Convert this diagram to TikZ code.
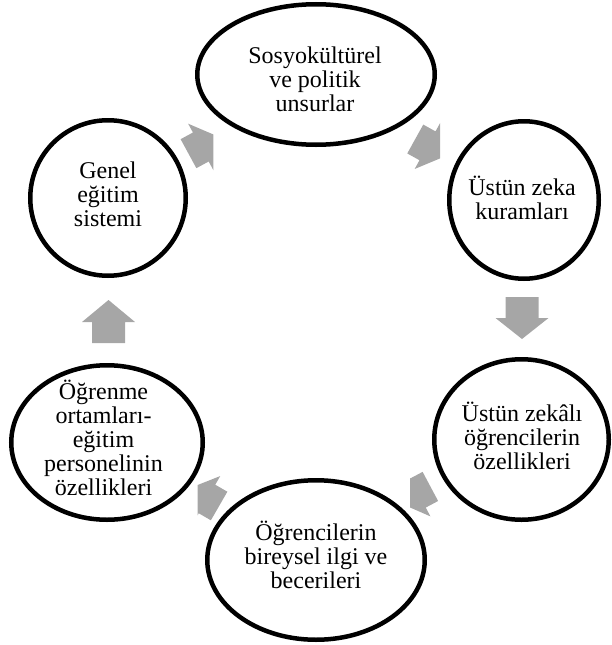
\documentclass[tikz,border=0pt]{standalone}
\usepackage{fontspec}
\setmainfont{Liberation Serif}
\usetikzlibrary{shapes.geometric}
\definecolor{arrowgray}{RGB}{166,166,166}
% #1 x, #2 y (head-base centre), #3 angle, #4 shaft length, #5 head length
\newcommand\blkarrow[5]{%
  \fill[arrowgray,shift={(#1,#2)},rotate=#3]
    (#5,0) -- (0,26.5) -- (0,16.5) -- (-#4,16.5) -- (-#4,-16.5)
    -- (0,-16.5) -- (0,-26.5) -- cycle;}
\begin{document}
\begin{tikzpicture}[x=1pt,y=-1pt,
  ell/.style={ellipse,draw=black,line width=4.5pt,fill=white,inner sep=0pt},
  lbl/.style={anchor=base,inner sep=0pt,font=\fontsize{24}{24}\selectfont}]
\useasboundingbox (0,0) rectangle (611,645);
% arrows
\begin{scope}\clip (0,0) rectangle (213.3,645); \blkarrow{200.8}{147}{28.5}{14}{21}\end{scope}
\begin{scope}\clip (0,0) rectangle (440,645); \blkarrow{427.5}{145.8}{-29}{14}{21}\end{scope}
\blkarrow{522}{318}{-90}{21}{21}
\begin{scope}\clip (410,0) rectangle (611,645); \blkarrow{418}{493}{208}{14}{21}\end{scope}
\begin{scope}\clip (197.7,0) rectangle (611,645); \blkarrow{207}{499}{150}{14}{21}\end{scope}
\blkarrow{108.5}{322}{90}{21}{22}
% ellipses
\node[ell,minimum width=237.5pt,minimum height=140.5pt] (e1) at (316,74.5) {};
\node[ell,minimum width=149.5pt,minimum height=157.5pt] (e2) at (524,200) {};
\node[ell,minimum width=174.5pt,minimum height=160.5pt] (e3) at (521.5,439.5) {};
\node[ell,minimum width=217.5pt,minimum height=159.5pt] (e4) at (316,560) {};
\node[ell,minimum width=191.5pt,minimum height=154.5pt] (e5) at (107,442.5) {};
\node[ell,minimum width=155.5pt,minimum height=155.5pt] (e6) at (108,198) {};
% labels
\node[lbl] (t1) at (315,63.5) {\begin{tabular}[t]{@{}c@{}}Sosyokültürel\\ve politik\\unsurlar\end{tabular}};
\node[lbl] (t2) at (522,195.5) {\begin{tabular}[t]{@{}c@{}}Üstün zeka\\kuramları\end{tabular}};
\node[lbl] (t3) at (522,421.5) {\begin{tabular}[t]{@{}c@{}}Üstün zekâlı\\öğrencilerin\\özellikleri\end{tabular}};
\node[lbl] (t4) at (316,540) {\begin{tabular}[t]{@{}c@{}}Öğrencilerin\\bireysel ilgi ve\\becerileri\end{tabular}};
\node[lbl] (t5) at (103.5,399.5) {\begin{tabular}[t]{@{}c@{}}Öğrenme\\ortamları-\\eğitim\\personelinin\\özellikleri\end{tabular}};
\node[lbl] (t6) at (108,178) {\begin{tabular}[t]{@{}c@{}}Genel\\eğitim\\sistemi\end{tabular}};
\end{tikzpicture}
\end{document}
